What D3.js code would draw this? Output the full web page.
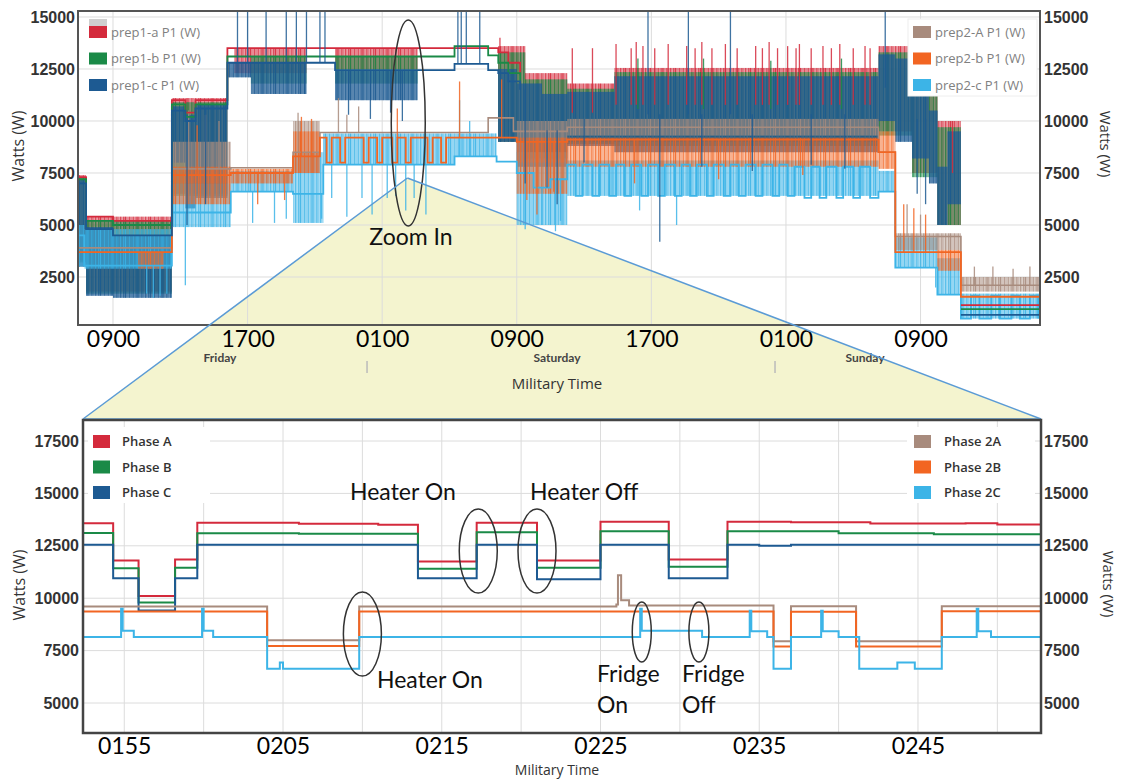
<!DOCTYPE html>
<html><head><meta charset="utf-8">
<script src="https://cdn.jsdelivr.net/npm/d3@7/dist/d3.min.js"></script>
<style>body{margin:0;background:#fff;} svg{display:block;font-family:"Open Sans",sans-serif;}</style>
</head><body><svg id="c" width="1122" height="780"></svg>
<script>
// ================= DATA (top chart: hours since Friday 00:00, Watts) =================
const topTickHours = [9,17,25,33,41,49,57];
const topTickLabels = ["0900","1700","0100","0900","1700","0100","0900"];
const topYTicks = [2500,5000,7500,10000,12500,15000];
const dayLabels = ["Friday","Saturday","Sunday"];
const dayLabelHours = [15.36,35.39,53.7];
const dayMarkHours = [24.1,48.35];

const topNames = ["prep1-a P1 (W)","prep1-b P1 (W)","prep1-c P1 (W)","prep2-A P1 (W)","prep2-b P1 (W)","prep2-c P1 (W)"];
const topColors = ["#d42a3c","#1a8a47","#1d5a92","#a88b7d","#f26522","#3cb4e7"];

// step levels [hour, W]; null = no steady level (only dense spikes)
const p1aBase = [[6.92,7300],[7.4,5400],[9,5200],[12.5,11000],[13.3,10400],[13.9,11000],[15.8,13500],[31.9,13300],[32.5,12800],[33.2,12200],[34.0,null],[59.4,1150],[64.1,1150]];
const p1bBase = [[6.92,7200],[7.4,5200],[9,5000],[12.5,10800],[13.3,10200],[13.9,10800],[15.8,13100],[29.3,13600],[31.3,13150],[31.9,12800],[32.5,12300],[33.2,11800],[34.0,null],[59.4,960],[64.1,960]];
const p1cBase = [[6.92,7000],[7.4,4800],[9,4500],[12.5,10500],[13.3,10000],[13.9,10600],[15.8,12800],[22.2,12450],[29.3,12750],[31.3,12450],[31.9,12300],[32.5,11900],[33.2,11500],[34.0,null],[59.4,680],[64.1,680]];
const p2aBase = [[6.92,3900],[12.5,7700],[16.0,7750],[19.7,8500],[21.3,9450],[31.3,10150],[32.8,9500],[36.0,9700],[54.5,8500],[55.5,4450],[59.4,2100],[64.1,2100]];
const p2bBase = [[6.92,3700],[12.5,7400],[16.0,7500],[19.7,8300],[21.3,9200],[21.7,8000],[22.0,9200],[22.5,8000],[22.8,9200],[23.9,8000],[24.2,9200],[24.7,8000],[25.0,9200],[25.6,8000],[25.9,9200],[26.4,8000],[26.7,9200],[27.7,8000],[28.0,9200],[28.5,8000],[28.8,9200],[33.0,9000],[36.0,9100],[54.5,8500],[55.5,3700],[59.4,1550],[64.1,1550]];
const p2cBase = [[6.92,4500],[7.3,3050],[12.5,5600],[16.0,6600],[19.7,6500],[21.5,7900],[29.3,8300],[31.8,8050],[33.0,7500],[34.0,6800],[35.0,7200],
[36.0,7900],[36.5,6400],[36.9,7900],[37.5,6400],[37.9,7900],[38.5,6400],[38.9,7900],[39.4,6400],[39.8,7900],[40.4,6400],[40.8,7900],[41.4,6400],[41.8,7900],[42.4,6400],[42.8,7900],[43.3,6400],[43.7,7900],[44.3,6400],[44.7,7900],[45.3,6400],[45.7,7900],[46.2,6400],[46.6,7900],[47.2,6400],[47.6,7900],[48.2,6400],[48.6,7900],[49.1,6400],[49.5,7800],[50.1,6300],[50.5,7800],[51.0,6300],[51.4,7800],[52.0,6300],[52.4,7800],[53.0,6300],[53.4,7800],[54.0,6300],
[54.5,6600],[55.5,2950],[58.0,1650],[59.4,500],[60.0,1600],[60.5,500],[61.2,1600],[61.7,500],[62.4,1600],[62.9,500],[63.5,1600],[64.0,500]];

// dense spike envelopes [hourStart, hourEnd, lowW, highW]
const p1aBand = [[6.92,7.4,3300,7400],[7.4,12.5,1800,5400],[12.5,15.8,6500,11100],[16.2,20.5,12300,13500],[22.2,27.1,12500,13500],[31.9,33.5,9000,13600],[33.5,36.0,8500,12300],[36.0,38.8,9000,11800],[38.8,54.5,9000,12550],[54.5,56.5,9500,13600],[56.5,58.0,7500,12600],[58.0,59.4,5000,10000]];
const p1bBand = [[6.92,7.4,3200,7300],[7.4,12.5,1700,5200],[12.5,15.8,6400,10900],[17.2,20.5,11800,13100],[22.2,27.1,11800,13100],[31.9,33.5,9000,13300],[33.5,36.0,8200,12000],[36.0,38.8,8900,11550],[38.8,54.5,8800,12350],[54.5,56.5,9300,13300],[56.5,58.0,7300,12300],[58.0,59.4,5000,9700]];
const p1cBand = [[6.92,7.4,3000,7200],[7.4,9.0,1600,4900],[9.0,12.5,1500,4500],[12.5,13.3,8000,10700],[13.3,13.9,5800,10300],[13.9,15.8,6300,10800],[15.8,17.2,12100,12800],[17.2,20.5,11300,12800],[22.2,27.1,11000,12450],[31.9,33.0,9000,12500],[33.0,34.5,7800,11800],[34.5,36.0,7800,11300],[36.0,38.8,8800,11400],[38.8,54.5,8500,12150],[54.5,55.5,10000,13200],[55.5,56.5,9000,13000],[56.5,57.5,8200,12000],[57.5,58.0,7000,10500],[58.0,58.6,5000,7800],[58.6,59.4,6000,9500]];
const p2aBand = [[12.5,16.0,7000,9000],[19.7,21.3,7500,10000],[33.0,36.0,8000,10000],[36.0,54.5,9300,10100],[55.5,59.4,3800,4600],[59.4,64.1,1800,2500]];
const p2bBand = [[10.5,12.0,2900,3700],[12.5,16.0,6000,7800],[16.0,19.7,7000,7700],[19.7,21.3,7500,9500],[33.0,36.0,6500,9200],[36.0,54.5,7800,9200],[54.5,55.5,7700,9500],[58.0,59.4,2800,3800]];
const p2cBand = [[6.92,7.3,3000,5000],[7.3,12.5,2900,4800],[12.5,16.0,4900,7000],[16.0,19.7,6600,7600],[19.7,21.5,5100,8500],[21.5,29.3,7900,9400],[29.3,31.8,8300,9400],[33.0,36.0,5000,8500],[36.0,54.5,6400,8100],[54.5,55.5,6600,7600],[55.5,58.0,2950,4400],[58.0,59.4,1650,3400],[59.4,64.1,500,1700]];

// isolated spikes [hour, W]
const p1aSpk = [[32.0,14000],[36.3,13500],[37.5,13500],[38.9,13700],[39.8,13500],[40.1,13800],[40.5,13600],[41.2,13500],[42.0,13700],[43.1,13600],[43.6,13500],[44.0,13800],[44.6,13500],[45.4,13700],[46.1,13500],[47.2,13600],[47.6,13500],[48.0,13800],[48.5,13500],[49.1,13600],[49.6,13500],[49.8,13700],[50.5,13500],[51.2,13600],[51.7,13500],[52.2,13700],[53.0,13500],[53.7,13600],[54.0,13500],[58.9,10000]];
const p1bSpk = [[40.2,13000],[44.1,13000],[48.1,12900],[52.3,13000]];
const p1cSpk = [[16.4,15300],[17.0,15300],[18.1,15300],[19.3,15300],[19.9,15300],[20.5,15300],[21.3,15300],[21.6,15300],[29.5,15300],[29.7,15300],[30.0,15300],[30.8,15300],[40.8,15300],[43.2,15300],[45.7,15300],[54.9,15300],
[20.4,11300],[23.0,10300],[24.3,10100],[25.5,10400],[26.2,10000],[41.5,4200],[13.4,5000],[14.5,6000],[33.5,7000],[34.8,6800],[35.4,6000],[37.0,8000],[44.0,7800],[47.0,7600],[50.5,7900],[52.5,7700],[56.8,6500],[57.3,6000]];
const p2aSpk = [[13.5,10500],[14.5,10300],[15.3,10000],[20.0,10400],[22.4,11100],[22.9,10300],[23.6,10700],[56.2,6000],[57.0,5500],[60.2,3000],[61.3,3000],[62.5,2900],[63.5,3000]];
const p2bSpk = [[14.0,9800],[20.2,10200],[20.8,10100],[25.9,10600],[29.6,11900],[32.1,12000],[56.0,6000],[56.6,5800],[57.3,5500],[17.6,6000],[19.2,6200],[33.6,6200],[34.2,5500],[35.2,6600],[40.0,7000],[45.0,7200],[50.0,7400]];
const p2cSpk = [[11.0,1700],[11.4,1500],[11.8,1600],[12.2,1700],[13.3,2100],[17.3,5100],[18.6,5100],[19.3,5300],[21.4,5300],[22.0,6300],[22.9,5400],[23.8,6300],[24.4,5500],[25.3,6300],[25.8,6400],[26.4,5700],[26.9,6300],[27.6,5500],[29.6,11000],[30.2,10000],[33.5,4800],[34.5,5000],[35.3,4700],[35.6,5200],[40.3,5700],[42.5,5000],[57.9,2000]];

// ================= DATA (bottom chart: minutes since Saturday 00:00, Watts) =================
const botTickMinutes = [115,125,135,145,155,165];
const botTickLabels = ["0155","0205","0215","0225","0235","0245"];
const botYTicks = [5000,7500,10000,12500,15000,17500];
const botNames = ["Phase A","Phase B","Phase C","Phase 2A","Phase 2B","Phase 2C"];
const botColors = ["#d42a3c","#1a8a47","#1d5a92","#a88b7d","#f26522","#3cb4e7"];

const phaseA = [[112.4,13580],[114.3,11800],[115.9,10100],[118.2,11850],[119.6,13600],[126,13550],[131,13500],[133.5,11750],[137.2,13600],[141.0,11800],[145.0,13650],[149.3,11850],[153.0,13650],[157,13620],[162,13560],[168,13580],[170,13520],[172.75,13550]];
const phaseB = [[112.4,13110],[114.3,11430],[115.9,9800],[118.2,11450],[119.6,13100],[126,13080],[133.5,11400],[137.2,13150],[141.0,11450],[145.0,13200],[149.3,11500],[153.0,13200],[160,13100],[166,13050],[172.75,13100]];
const phaseC = [[112.4,12550],[114.3,10950],[115.9,9410],[118.2,10950],[119.6,12550],[133.5,10950],[137.2,12550],[141.0,10900],[145.0,12550],[149.3,10950],[153.0,12550],[155,12500],[157,12550],[172.75,12550]];
const phase2A = [[112.4,9600],[124.0,7995],[129.8,9600],[146.0,9700],[146.1,11100],[146.3,9900],[146.8,9650],[155.9,7950],[157.0,9620],[161.1,7950],[166.5,9620],[172.75,9580]];
const phase2B = [[112.4,9360],[124.0,7725],[129.8,9360],[155.9,7700],[157.0,9350],[161.1,7700],[166.5,9380],[172.75,9350]];
const phase2C = [[112.4,8150],[114.8,9500],[114.9,8450],[115.6,8150],[119.9,9500],[120.0,8450],[120.6,8150],[124.0,6630],[124.8,6930],[125.0,6630],[129.8,8150],[147.5,9500],[147.6,8450],[151.4,8150],[154.4,9400],[154.5,8420],[155.5,8150],[155.9,6630],[157.0,8150],[158.9,9400],[159.0,8420],[160.0,8150],[161.3,6630],[163.7,6930],[164.8,6630],[166.5,8150],[168.7,9500],[168.8,8420],[169.6,8150],[172.75,8150]];

// ================= DRAWING =================
const svg = d3.select("#c");
const TL=78, TR=1040, TT=11, TB=325;
const BL=83, BR=1041, BT=420, BB=733;
const X1 = d3.scaleLinear().domain([6.92,64.1]).range([TL,TR]);
const Y1 = d3.scaleLinear().domain([192,15288]).range([TB,TT]);
const X2 = d3.scaleLinear().domain([112.4,172.75]).range([BL,BR]);
const Y2 = d3.scaleLinear().domain([3569,18502]).range([BB,BT]);
const CAL = "Lato, 'Open Sans', sans-serif";

const defs = svg.append("defs");
defs.append("clipPath").attr("id","clipT").append("rect").attr("x",TL).attr("y",TT).attr("width",TR-TL).attr("height",TB-TT);
defs.append("clipPath").attr("id","clipB").append("rect").attr("x",BL).attr("y",BT).attr("width",BR-BL).attr("height",BB-BT);
// irregular vertical hatching to imitate dense spikes
const hatch = [[0,1.4,0.9],[2.2,0.8,0.5],[3.6,1.6,0.85],[6.0,0.9,0.6],[7.6,1.3,0.9],[9.4,0.7,0.45],[10.6,1.5,0.8]];
topColors.forEach((c,i)=>{
  const p = defs.append("pattern").attr("id","pt"+i).attr("width",12.5).attr("height",8).attr("patternUnits","userSpaceOnUse");
  hatch.forEach(h=>p.append("rect").attr("x",h[0]).attr("width",h[1]).attr("height",8).attr("fill",c).attr("fill-opacity",h[2]));
});

// zoom triangle (background)
const apex = [X1(26.5), Y1(7260)];
svg.append("polygon").attr("points",[apex,[BL,BT-1],[BR,BT-1]].map(p=>p.join(",")).join(" "))
  .attr("fill","#f4f4cf").attr("stroke","none");

// ---- top grid
const gT = svg.append("g");
gT.selectAll(".hg").data(topYTicks).join("line").attr("x1",TL).attr("x2",TR).attr("y1",d=>Y1(d)).attr("y2",d=>Y1(d)).attr("stroke","#dcdcdc");
gT.selectAll(".vg").data(topTickHours).join("line").attr("y1",TT).attr("y2",TB).attr("x1",d=>X1(d)).attr("x2",d=>X1(d)).attr("stroke","#dcdcdc");

const topSeries = [
  {base:p1aBase,band:p1aBand,spk:p1aSpk},
  {base:p1bBase,band:p1bBand,spk:p1bSpk},
  {base:p1cBase,band:p1cBand,spk:p1cSpk},
  {base:p2aBase,band:p2aBand,spk:p2aSpk},
  {base:p2bBase,band:p2bBand,spk:p2bSpk},
  {base:p2cBase,band:p2cBand,spk:p2cSpk}
];
function spikeFrom(s,h){
  let v=s.base[0][1];
  for(const p of s.base){if(p[0]<=h)v=p[1];else break;}
  if(v===null){const b=s.band.find(b=>b[0]<=h&&h<b[1]); v=b?(b[2]+b[3])/2:0;}
  return v;
}
const dT = svg.append("g").attr("clip-path","url(#clipT)");
const lineT = d3.line().defined(d=>d[1]!==null).x(d=>X1(d[0])).y(d=>Y1(d[1])).curve(d3.curveStepAfter);
function drawBands(i,op){
  const s=topSeries[i];
  const g=dT.append("g");
  g.selectAll("rect.f").data(s.band).join("rect").attr("x",d=>X1(d[0])).attr("width",d=>X1(d[1])-X1(d[0]))
    .attr("y",d=>Y1(d[3])).attr("height",d=>Y1(d[2])-Y1(d[3])).attr("fill",topColors[i]).attr("fill-opacity",op);
  g.selectAll("rect.p").data(s.band).join("rect").attr("x",d=>X1(d[0])).attr("width",d=>X1(d[1])-X1(d[0]))
    .attr("y",d=>Y1(d[3])).attr("height",d=>Y1(d[2])-Y1(d[3])).attr("fill","url(#pt"+i+")");
}
function drawLines(i,w){
  const s=topSeries[i];
  const g=dT.append("g");
  g.selectAll("line").data(s.spk).join("line").attr("x1",d=>X1(d[0])).attr("x2",d=>X1(d[0]))
    .attr("y1",d=>Y1(spikeFrom(s,d[0]))).attr("y2",d=>Y1(d[1])).attr("stroke",topColors[i]).attr("stroke-width",1.3).attr("stroke-opacity",0.85);
  g.append("path").attr("d",lineT(s.base)).attr("fill","none").attr("stroke",topColors[i]).attr("stroke-width",w);
}
drawBands(0,0.3);drawBands(1,0.3);drawBands(2,0.6);
drawBands(5,0.3);drawBands(3,0.25);drawBands(4,0.2);
drawLines(5,1.8);drawLines(3,1.6);drawLines(4,1.8);
drawLines(0,1.8);drawLines(1,1.8);drawLines(2,1.8);

svg.append("rect").attr("x",TL).attr("y",TT).attr("width",TR-TL).attr("height",TB-TT).attr("fill","none").attr("stroke","#555").attr("stroke-width",2);

// top axes
const tickStyle = sel=>sel.selectAll("text").attr("font-size",16).attr("font-weight",700).attr("fill","#333");
const ayL = svg.append("g").attr("transform",`translate(${TL},0)`).call(d3.axisLeft(Y1).tickValues(topYTicks).tickFormat(d3.format("d")).tickSize(0).tickPadding(3));
ayL.select(".domain").remove(); tickStyle(ayL);
const ayR = svg.append("g").attr("transform",`translate(${TR},0)`).call(d3.axisRight(Y1).tickValues(topYTicks).tickFormat(d3.format("d")).tickSize(0).tickPadding(4));
ayR.select(".domain").remove(); tickStyle(ayR);
const axT = svg.append("g").attr("transform",`translate(0,${TB})`).call(d3.axisBottom(X1).tickValues(topTickHours).tickFormat((d,i)=>topTickLabels[i]).tickSize(0).tickPadding(6));
axT.select(".domain").remove();
axT.selectAll("text").attr("font-family",CAL).attr("font-size",23).attr("font-weight",400).attr("fill","#000");
svg.selectAll(".day").data(dayLabels).join("text").attr("x",(d,i)=>X1(dayLabelHours[i])).attr("y",362).attr("text-anchor","middle")
  .attr("font-family",CAL).attr("font-size",12).attr("font-weight",700).attr("fill","#444").text(d=>d);
svg.selectAll(".dm").data(dayMarkHours).join("line").attr("x1",d=>X1(d)).attr("x2",d=>X1(d)).attr("y1",361).attr("y2",373).attr("stroke","#bbb").attr("stroke-width",1.5);
svg.append("text").attr("x",557).attr("y",389).attr("text-anchor","middle").attr("font-size",15).attr("fill","#333").text("Military Time");
svg.append("text").attr("transform","translate(24,146) rotate(-90)").attr("text-anchor","middle").attr("font-size",16).attr("fill","#333").text("Watts (W)");
svg.append("text").attr("transform","translate(1100,144) rotate(90)").attr("text-anchor","middle").attr("font-size",15).attr("fill","#333").text("Watts (W)");

// top legends
svg.append("rect").attr("x",89).attr("y",19).attr("width",18).attr("height",8).attr("fill","#cfcfcf");
[0,1,2].forEach((k,j)=>{
  svg.append("rect").attr("x",89).attr("y",26+j*26.5).attr("width",18).attr("height",12).attr("fill",topColors[k]);
  svg.append("text").attr("x",111).attr("y",36.5+j*26.5).attr("font-size",13).attr("fill","#808080").text(topNames[k]);
});
svg.append("rect").attr("x",908).attr("y",19).attr("width",129).attr("height",77).attr("fill","#fff").attr("stroke","#eee");
[3,4,5].forEach((k,j)=>{
  svg.append("rect").attr("x",913).attr("y",26+j*26.5).attr("width",18).attr("height",12).attr("fill",topColors[k]);
  svg.append("text").attr("x",935).attr("y",36.5+j*26.5).attr("font-size",13).attr("fill","#808080").text(topNames[k]);
});

// top annotations
svg.append("ellipse").attr("cx",X1(26.55)).attr("cy",Y1(9900)).attr("rx",17).attr("ry",103).attr("fill","none").attr("stroke","#333").attr("stroke-width",1.5);
svg.append("text").attr("x",411).attr("y",245).attr("text-anchor","middle").attr("font-family",CAL).attr("font-size",23).attr("fill","#111").text("Zoom In");

// triangle outline
svg.append("line").attr("x1",apex[0]).attr("y1",apex[1]).attr("x2",BL).attr("y2",BT-1).attr("stroke","#5b9bd5").attr("stroke-width",1.5);
svg.append("line").attr("x1",apex[0]).attr("y1",apex[1]).attr("x2",BR).attr("y2",BT-1).attr("stroke","#5b9bd5").attr("stroke-width",1.5);
svg.append("line").attr("x1",BL).attr("y1",BT-1).attr("x2",BR).attr("y2",BT-1).attr("stroke","#5b9bd5").attr("stroke-width",1.5);

// ---- bottom chart
svg.append("rect").attr("x",BL).attr("y",BT).attr("width",BR-BL).attr("height",BB-BT).attr("fill","#fff");
const gB = svg.append("g");
gB.selectAll(".hg").data(botYTicks).join("line").attr("x1",BL).attr("x2",BR).attr("y1",d=>Y2(d)).attr("y2",d=>Y2(d)).attr("stroke","#dcdcdc");
gB.selectAll(".vg").data(d3.range(115,173,5)).join("line").attr("y1",BT).attr("y2",BB).attr("x1",d=>X2(d)).attr("x2",d=>X2(d)).attr("stroke","#dcdcdc");

const dB = svg.append("g").attr("clip-path","url(#clipB)");
const lineB = d3.line().x(d=>X2(d[0])).y(d=>Y2(d[1])).curve(d3.curveStepAfter);
[phaseA,phaseB,phaseC,phase2A,phase2B,phase2C].forEach((s,i)=>{
  dB.append("path").attr("d",lineB(s)).attr("fill","none").attr("stroke",botColors[i]).attr("stroke-width",2);
});
svg.append("rect").attr("x",BL).attr("y",BT).attr("width",BR-BL).attr("height",BB-BT).attr("fill","none").attr("stroke","#444").attr("stroke-width",2.5);

const byL = svg.append("g").attr("transform",`translate(${BL},0)`).call(d3.axisLeft(Y2).tickValues(botYTicks).tickFormat(d3.format("d")).tickSize(0).tickPadding(4));
byL.select(".domain").remove(); tickStyle(byL);
const byR = svg.append("g").attr("transform",`translate(${BR},0)`).call(d3.axisRight(Y2).tickValues(botYTicks).tickFormat(d3.format("d")).tickSize(0).tickPadding(3));
byR.select(".domain").remove(); tickStyle(byR);
const axB = svg.append("g").attr("transform",`translate(0,${BB})`).call(d3.axisBottom(X2).tickValues(botTickMinutes).tickFormat((d,i)=>botTickLabels[i]).tickSize(0).tickPadding(5));
axB.select(".domain").remove();
axB.selectAll("text").attr("font-family",CAL).attr("font-size",23).attr("font-weight",400).attr("fill","#000");
svg.append("text").attr("x",557).attr("y",775).attr("text-anchor","middle").attr("font-size",14).attr("fill","#333").text("Military Time");
svg.append("text").attr("transform","translate(25,585) rotate(-90)").attr("text-anchor","middle").attr("font-size",16).attr("fill","#333").text("Watts (W)");
svg.append("text").attr("transform","translate(1103,584) rotate(90)").attr("text-anchor","middle").attr("font-size",15).attr("fill","#333").text("Watts (W)");

// bottom legends
svg.append("rect").attr("x",88).attr("y",427).attr("width",122).attr("height",76).attr("fill","#fff");
svg.append("rect").attr("x",907).attr("y",427).attr("width",128).attr("height",76).attr("fill","#fff");
[0,1,2].forEach((k,j)=>{
  svg.append("rect").attr("x",93).attr("y",435+j*25.5).attr("width",17).attr("height",13).attr("fill",botColors[k]);
  svg.append("text").attr("x",122).attr("y",446+j*25.5).attr("font-size",13).attr("font-weight",600).attr("fill","#333").text(botNames[k]);
});
[3,4,5].forEach((k,j)=>{
  svg.append("rect").attr("x",914).attr("y",435+j*25.5).attr("width",17).attr("height",13).attr("fill",botColors[k]);
  svg.append("text").attr("x",944).attr("y",446+j*25.5).attr("font-size",13).attr("font-weight",600).attr("fill","#333").text(botNames[k]);
});

// bottom annotations
const ells = [[137.3,12250,19,42],[141.0,12250,19,42],[130.0,8290,19,42],[147.6,8390,9.5,30],[151.2,8390,10,30]];
svg.selectAll(".el").data(ells).join("ellipse").attr("cx",d=>X2(d[0])).attr("cy",d=>Y2(d[1])).attr("rx",d=>d[2]).attr("ry",d=>d[3])
  .attr("fill","none").attr("stroke","#333").attr("stroke-width",1.5);
const notes = [["Heater On",350,500],["Heater Off",530,500],["Heater On",377,688],["Fridge",597,682],["On",597,713],["Fridge",682,682],["Off",682,713]];
svg.selectAll(".nt").data(notes).join("text").attr("x",d=>d[1]).attr("y",d=>d[2]).attr("font-family",CAL).attr("font-size",23).attr("fill","#111").text(d=>d[0]);
</script></body></html>
